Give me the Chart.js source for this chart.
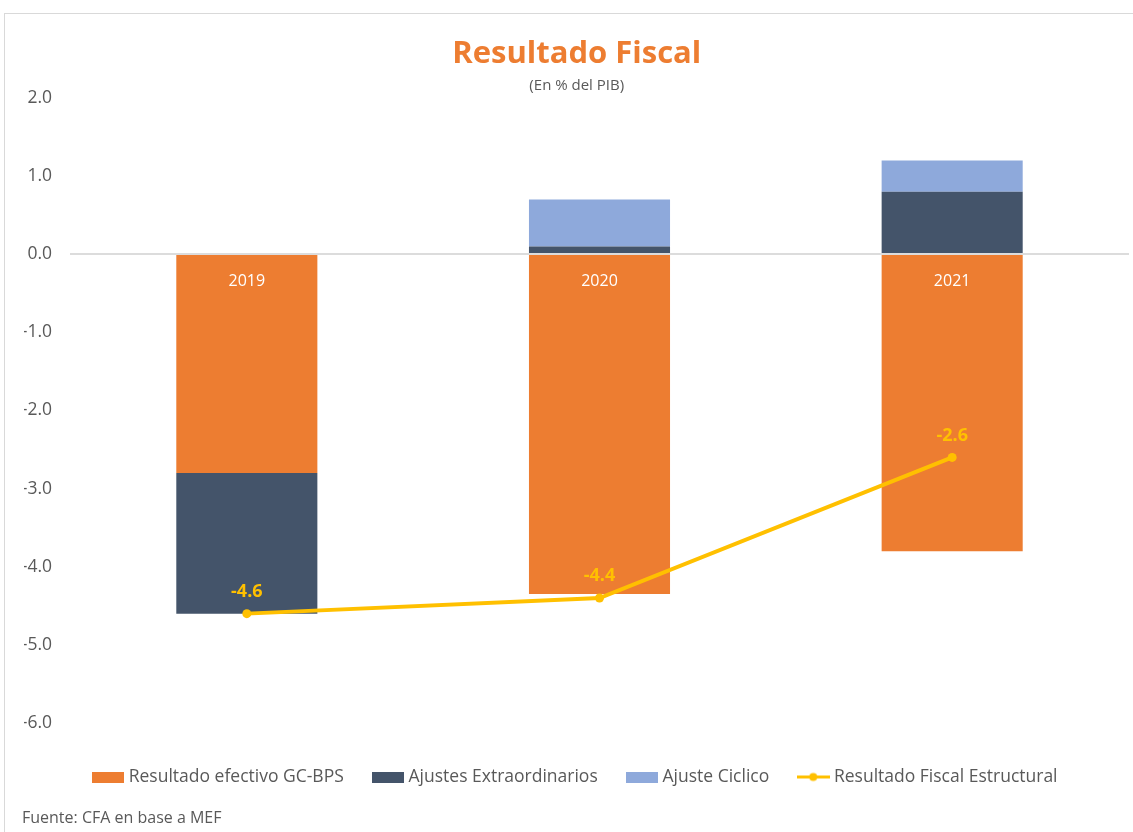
<!DOCTYPE html>
<html>
<head>
<meta charset="utf-8">
<script src="https://cdn.jsdelivr.net/npm/chart.js@4/dist/chart.umd.min.js"></script>
<style>
  html, body { margin: 0; padding: 0; background: #fff; overflow: hidden; }
  #frame { position: absolute; left: 4px; top: 13px; width: 1300px; height: 1000px; border: 1px solid #d9d9d9; }
  #chart { position: absolute; left: 0; top: 0; }
  #source { position: absolute; left: 22px; top: 806px; font: 16px "Open Sans", sans-serif; color: #595959; }
</style>
</head>
<body>
<div id="frame"></div>
<canvas id="chart" width="1133" height="832"></canvas>
<div id="source">Fuente: CFA en base a MEF</div>
<script>
// ---- data ----
const categories = ['2019', '2020', '2021'];
const resultadoEfectivo = [-2.8, -4.35, -3.8];
const ajustesExtraordinarios = [-1.8, 0.1, 0.8];
const ajusteCiclico = [0, 0.6, 0.4];
const resultadoEstructural = [-4.6, -4.4, -2.6];
const seriesNames = ['Resultado efectivo GC-BPS', 'Ajustes Extraordinarios', 'Ajuste Ciclico', 'Resultado Fiscal Estructural'];
const yMin = -6, yMax = 2, yStep = 1;

const ORANGE = '#ED7D31', DARK = '#44546A', LIGHT = '#8EA9DB', YELLOW = '#FFC000', GRAY = '#595959';
const FONT = '"Open Sans", sans-serif';

function rectImg(color) {
  const c = document.createElement('canvas');
  c.width = 32; c.height = 11;
  const g = c.getContext('2d');
  g.fillStyle = color; g.fillRect(0, 0, 32, 11);
  return c;
}
function lineImg(color) {
  const c = document.createElement('canvas');
  c.width = 33; c.height = 11;
  const g = c.getContext('2d');
  g.strokeStyle = color; g.lineWidth = 3;
  g.beginPath(); g.moveTo(0, 5.5); g.lineTo(33, 5.5); g.stroke();
  g.fillStyle = color; g.beginPath(); g.arc(16.5, 5.5, 4, 0, Math.PI * 2); g.fill();
  return c;
}
const legendImgs = [rectImg(ORANGE), rectImg(DARK), rectImg(LIGHT), lineImg(YELLOW)];

const lineLabels = {
  id: 'lineLabels',
  afterDatasetsDraw(chart) {
    const meta = chart.getDatasetMeta(3);
    const ctx = chart.ctx;
    ctx.save();
    ctx.font = 'bold 18px ' + FONT;
    ctx.fillStyle = YELLOW;
    ctx.textAlign = 'center';
    ctx.textBaseline = 'middle';
    meta.data.forEach((el, i) => {
      ctx.fillText(resultadoEstructural[i].toFixed(1), el.x, el.y - 22);
    });
    ctx.restore();
  }
};

new Chart(document.getElementById('chart'), {
  data: {
    labels: categories,
    datasets: [
      { type: 'bar', label: seriesNames[0], data: resultadoEfectivo, backgroundColor: ORANGE, stack: 'bars', order: 1 },
      { type: 'bar', label: seriesNames[1], data: ajustesExtraordinarios, backgroundColor: DARK, stack: 'bars', order: 1 },
      { type: 'bar', label: seriesNames[2], data: ajusteCiclico, backgroundColor: LIGHT, stack: 'bars', order: 1 },
      { type: 'line', label: seriesNames[3], data: resultadoEstructural, borderColor: YELLOW, backgroundColor: YELLOW,
        borderWidth: 4, pointRadius: 4.5, pointHoverRadius: 4.5, pointBorderWidth: 0, pointBackgroundColor: YELLOW,
        tension: 0, stack: 'line', order: 0 }
    ]
  },
  options: {
    responsive: false,
    animation: false,
    layout: { padding: { left: 24, right: 3.5, top: 0, bottom: 36.25 } },
    datasets: { bar: { categoryPercentage: 1, barPercentage: 0.4 } },
    scales: {
      x: {
        type: 'category',
        position: { y: 0 },
        stacked: true,
        grid: { display: false, drawTicks: false },
        border: { display: true, color: '#dcdcdc', width: 2, z: 1 },
        ticks: { z: 1, color: '#ffffff', font: { family: FONT, size: 16 }, padding: 18, maxRotation: 0 }
      },
      xSpace: {
        type: 'category',
        position: 'bottom',
        display: true,
        grid: { display: false, drawTicks: false },
        border: { display: false },
        ticks: { display: false },
        afterFit: s => { s.height = 13.25; }
      },
      y: {
        stacked: true,
        min: yMin, max: yMax,
        grid: { display: false, drawTicks: false },
        border: { display: false },
        ticks: { stepSize: yStep, color: GRAY, font: { family: FONT, size: 17.5 }, padding: 18.5,
          callback: v => Number(v).toFixed(1) },
        afterFit: s => { s.width = 46.5; }
      }
    },
    plugins: {
      tooltip: { enabled: false },
      title: {
        display: true, text: 'Resultado Fiscal', color: ORANGE,
        font: { family: FONT, size: 31, weight: 'bold', lineHeight: 1.2 },
        padding: { top: 35.4, bottom: 0 }
      },
      subtitle: {
        display: true, text: '(En % del PIB)', color: GRAY,
        font: { family: FONT, size: 15, lineHeight: 1.2 },
        padding: { top: 4.4, bottom: 3 }
      },
      legend: {
        position: 'bottom',
        labels: {
          color: GRAY,
          font: { family: FONT, size: 17.5 },
          padding: 32,
          usePointStyle: true,
          pointStyleWidth: 24,
          boxHeight: 11,
          sort: (a, b) => a.datasetIndex - b.datasetIndex,
          generateLabels: chart => {
            const items = Chart.defaults.plugins.legend.labels.generateLabels(chart);
            items.forEach(it => { it.pointStyle = legendImgs[it.datasetIndex]; });
            return items;
          }
        }
      }
    }
  },
  plugins: [lineLabels]
});
</script>
</body>
</html>
